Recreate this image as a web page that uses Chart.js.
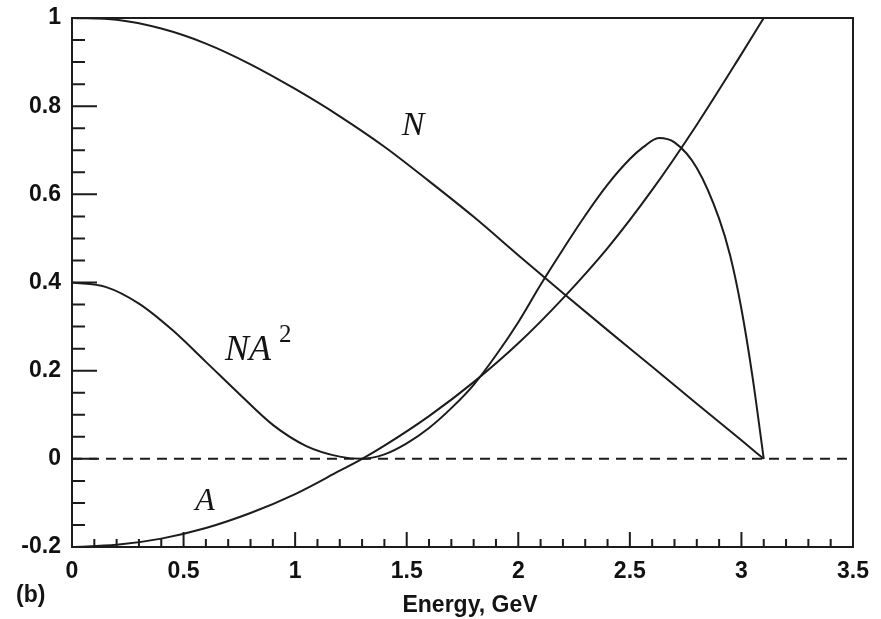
<!DOCTYPE html>
<html>
<head>
<meta charset="utf-8">
<script src="https://cdn.jsdelivr.net/npm/chart.js@4"></script>
<style>
  body { margin: 0; background: #fff; }
  canvas { display: block; }
</style>
</head>
<body>
<canvas id="chart" width="881" height="619"></canvas>
<script>
// N(E), A(E) and N*A^2 curves vs energy
const energyN = [0, 0.2, 0.4, 0.6, 0.8, 1.0, 1.2, 1.4, 1.6, 1.8, 2.0, 2.2, 2.4, 2.6, 2.8, 3.0, 3.1];
const valuesN = [1, 0.996, 0.976, 0.942, 0.895, 0.839, 0.777, 0.708, 0.63, 0.549, 0.462, 0.376, 0.292, 0.209, 0.125, 0.042, 0];

const energyA = [0, 0.2, 0.4, 0.6, 0.8, 1.0, 1.2, 1.3, 1.4, 1.6, 1.8, 2.0, 2.2, 2.4, 2.6, 2.8, 3.0, 3.1];
const valuesA = [-0.2, -0.195, -0.181, -0.157, -0.123, -0.08, -0.027, 0, 0.03, 0.097, 0.174, 0.262, 0.364, 0.478, 0.61, 0.758, 0.918, 1.0];

const energyNA2 = [0, 0.15, 0.3, 0.45, 0.6, 0.75, 0.9, 1.05, 1.2, 1.3, 1.4, 1.5, 1.6, 1.7, 1.8, 1.9, 2.0, 2.1, 2.2, 2.3, 2.4, 2.5, 2.56, 2.63, 2.7, 2.8, 2.9, 2.95, 3.0, 3.05, 3.1];
const valuesNA2 = [0.4, 0.39, 0.352, 0.292, 0.22, 0.147, 0.077, 0.029, 0.005, 0, 0.01, 0.035, 0.07, 0.115, 0.168, 0.235, 0.31, 0.395, 0.475, 0.552, 0.622, 0.68, 0.707, 0.728, 0.718, 0.66, 0.545, 0.46, 0.34, 0.185, 0];

const zeroLine = [0, 3.5];

const xTicks = [0, 0.5, 1, 1.5, 2, 2.5, 3, 3.5];
const yTicks = [-0.2, 0, 0.2, 0.4, 0.6, 0.8, 1];
const xMinorPerMajor = 5;
const yMinorPerMajor = 4;

// curve labels, placed in data coordinates (left edge, baseline)
const curveLabels = [
    { text: 'N', x: 1.478, y: 0.735, font: 'italic 34px "Liberation Serif"' },
    { text: 'NA', x: 0.686, y: 0.224, font: 'italic 36px "Liberation Serif"' },
    { text: '2', x: 0.928, y: 0.265, font: '25px "Liberation Serif"' },
    { text: 'A', x: 0.552, y: -0.116, font: 'italic 32px "Liberation Serif"' }
];

function toPoints(xs, ys) {
    return xs.map((x, i) => ({ x: x, y: ys[i] }));
}

function fmt(v) {
    return String(Math.round(v * 10) / 10);
}

const ink = '#1c1c1c';
const tickFont = { family: '"Liberation Sans", Arial', size: 23, weight: 'bold' };

// white page, frame, inward ticks, labels
const decorations = {
    id: 'decorations',
    beforeDraw(chart) {
        const ctx = chart.ctx;
        ctx.save();
        ctx.fillStyle = '#fff';
        ctx.fillRect(0, 0, chart.width, chart.height);
        ctx.restore();
    },
    afterDraw(chart) {
        const { ctx, chartArea: a, scales } = chart;
        const xs = scales.x, ys = scales.y;
        ctx.save();
        ctx.strokeStyle = ink;
        ctx.lineWidth = 2;
        ctx.strokeRect(a.left, a.top, a.right - a.left, a.bottom - a.top);

        ctx.beginPath();
        for (let i = 0; i < yTicks.length; i++) {
            const y = ys.getPixelForValue(yTicks[i]);
            ctx.moveTo(a.left, y);
            ctx.lineTo(a.left + 25, y);
            if (i < yTicks.length - 1) {
                const step = (yTicks[i + 1] - yTicks[i]) / yMinorPerMajor;
                for (let k = 1; k < yMinorPerMajor; k++) {
                    const ym = ys.getPixelForValue(yTicks[i] + k * step);
                    ctx.moveTo(a.left, ym);
                    ctx.lineTo(a.left + 13, ym);
                }
            }
        }
        for (let i = 0; i < xTicks.length; i++) {
            const x = xs.getPixelForValue(xTicks[i]);
            ctx.moveTo(x, a.bottom);
            ctx.lineTo(x, a.bottom - 15);
            if (i < xTicks.length - 1) {
                const step = (xTicks[i + 1] - xTicks[i]) / xMinorPerMajor;
                for (let k = 1; k < xMinorPerMajor; k++) {
                    const xm = xs.getPixelForValue(xTicks[i] + k * step);
                    ctx.moveTo(xm, a.bottom);
                    ctx.lineTo(xm, a.bottom - 8);
                }
            }
        }
        ctx.stroke();

        ctx.fillStyle = '#141414';
        ctx.textBaseline = 'alphabetic';
        ctx.textAlign = 'left';
        curveLabels.forEach(l => {
            ctx.font = l.font;
            ctx.fillText(l.text, xs.getPixelForValue(l.x), ys.getPixelForValue(l.y));
        });

        ctx.font = 'bold 23px "Liberation Sans", Arial';
        ctx.textAlign = 'center';
        ctx.fillText('Energy, GeV', 470, 612);
        ctx.textAlign = 'left';
        ctx.fillText('(b)', 16, 602);
        ctx.restore();
    }
};

const lineStyle = {
    showLine: true,
    pointRadius: 0,
    borderColor: ink,
    borderWidth: 2,
    cubicInterpolationMode: 'monotone'
};

new Chart(document.getElementById('chart'), {
    type: 'scatter',
    data: {
        datasets: [
            Object.assign({ label: 'N', data: toPoints(energyN, valuesN) }, lineStyle),
            Object.assign({ label: 'A', data: toPoints(energyA, valuesA) }, lineStyle),
            Object.assign({ label: 'NA2', data: toPoints(energyNA2, valuesNA2) }, lineStyle),
            {
                label: 'zero',
                data: toPoints(zeroLine, [0, 0]),
                showLine: true,
                pointRadius: 0,
                borderColor: ink,
                borderWidth: 2,
                borderDash: [10, 7]
            }
        ]
    },
    options: {
        responsive: false,
        animation: false,
        layout: { padding: { left: 0, right: 28, top: 18, bottom: 0 } },
        plugins: {
            legend: { display: false },
            tooltip: { enabled: false }
        },
        scales: {
            x: {
                type: 'linear',
                min: 0,
                max: 3.5,
                afterFit: s => { s.height = 72; s.paddingLeft = 0; s.paddingRight = 0; },
                afterBuildTicks: s => { s.ticks = xTicks.map(v => ({ value: v })); },
                grid: { display: false, drawTicks: false },
                border: { display: false },
                ticks: {
                    padding: 11,
                    color: '#111',
                    font: tickFont,
                    maxRotation: 0,
                    callback: v => fmt(v)
                }
            },
            y: {
                type: 'linear',
                min: -0.2,
                max: 1,
                afterFit: s => { s.width = 72; s.paddingTop = 0; s.paddingBottom = 0; },
                afterBuildTicks: s => { s.ticks = yTicks.map(v => ({ value: v })); },
                grid: { display: false, drawTicks: false },
                border: { display: false },
                ticks: {
                    padding: 11,
                    color: '#111',
                    font: tickFont,
                    callback: v => fmt(v)
                }
            }
        }
    },
    plugins: [decorations]
});
</script>
</body>
</html>
